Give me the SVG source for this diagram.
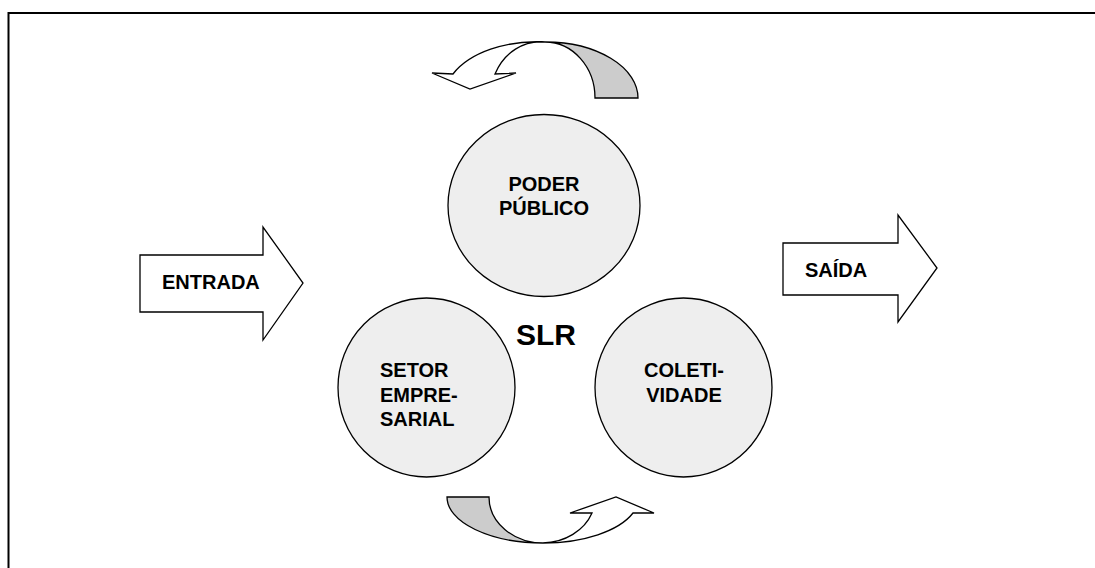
<svg xmlns="http://www.w3.org/2000/svg" width="1095" height="568" viewBox="0 0 1095 568">
  <style>
    .frame { fill: none; stroke: #000; stroke-width: 2; }
    .shape { stroke: #000; stroke-width: 1.3; stroke-linejoin: miter; }
    .circle { fill: #eeeeee; }
    .white { fill: #ffffff; }
    .back { fill: #cccccc; }
    .label { font-family: "Liberation Sans", Arial, sans-serif; font-weight: bold; font-size: 20px; fill: #000; }
    .title { font-family: "Liberation Sans", Arial, sans-serif; font-weight: bold; font-size: 30px; fill: #000; }
  </style>

  <rect width="1095" height="568" fill="#ffffff"/>
  <!-- outer frame: top and left edges only -->
  <path class="frame" d="M8.5,568 V13 H1095"/>

  <!-- input arrow -->
  <g id="entrada">
    <polygon class="shape white" points="140,255 263,255 263,227 303,283 263,340 263,312 140,312"/>
    <text class="label" x="162" y="289">ENTRADA</text>
  </g>

  <!-- output arrow -->
  <g id="saida">
    <polygon class="shape white" points="783,243 898,243 898,215 937,268 898,322 898,295 783,295"/>
    <text class="label" x="805" y="277">SAÍDA</text>
  </g>

  <g id="poder-publico">
    <ellipse class="shape circle" cx="544" cy="205.5" rx="96" ry="91"/>
    <text class="label" x="544" y="191" text-anchor="middle">PODER</text>
    <text class="label" x="544" y="215" text-anchor="middle">PÚBLICO</text>
  </g>

  <g id="setor-empresarial">
    <ellipse class="shape circle" cx="426.5" cy="387.5" rx="88.5" ry="89.5"/>
    <text class="label" x="380" y="377">SETOR</text>
    <text class="label" x="380" y="402">EMPRE-</text>
    <text class="label" x="380" y="426">SARIAL</text>
  </g>

  <g id="coletividade">
    <ellipse class="shape circle" cx="683.5" cy="387.5" rx="88.5" ry="89.5"/>
    <text class="label" x="684" y="377" text-anchor="middle">COLETI-</text>
    <text class="label" x="684" y="402" text-anchor="middle">VIDADE</text>
  </g>

  <g id="slr">
    <text class="title" x="546" y="345" text-anchor="middle">SLR</text>
  </g>

  <!-- cycle arrows -->
  <g id="connectors">
    <!-- top curved arrow: back face then front face with head -->
    <path class="shape back" d="M545,42 A92.5,56 0 0 1 638,98 L595,98 A50,56 0 0 0 545,42 Z"/>
    <path class="shape white" d="M453,74 A92.5,56 0 0 1 545,42 A50,56 0 0 0 495,74 L516,73 L470,89 L432,73 Z"/>
    <!-- bottom curved arrow -->
    <path class="shape back" d="M447,497 L489,497 A54,46 0 0 0 543,543 A96,46 0 0 1 447,497 Z"/>
    <path class="shape white" d="M543,543 A96,46 0 0 0 633,513 L654,513 L616,497 L570,513 L592,513 A54,46 0 0 1 543,543 Z"/>
  </g>
</svg>
